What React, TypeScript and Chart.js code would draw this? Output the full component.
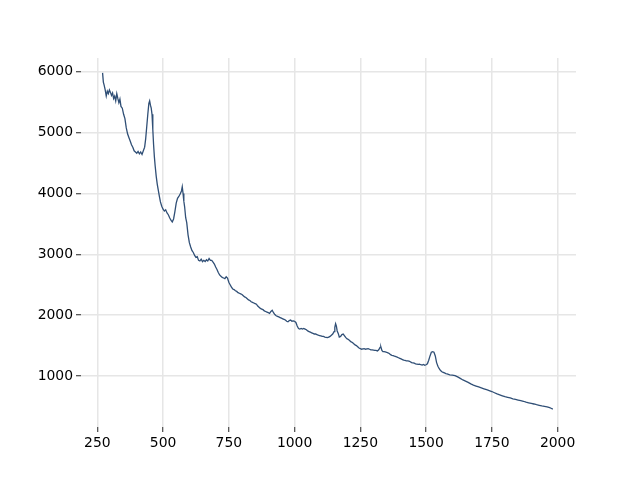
import React, { useEffect, useRef } from "react";
import { Chart, registerables } from "chart.js";

Chart.register(...registerables);

const wavenumbers: number[] = [
  270, 273, 276, 280, 284, 288, 292, 296, 300, 304, 308, 312, 316, 320, 324, 328, 332, 336, 340, 345,
  350, 355, 360, 365, 370, 375, 380, 385, 390, 395, 400, 405, 410, 415, 420, 425, 430, 434, 438, 442,
  446, 449, 452, 455, 458, 461, 464, 467, 470, 474, 478, 482, 486, 490, 495, 500, 505, 510, 515, 520,
  525, 530, 535, 540, 545, 550, 555, 560, 565, 570, 573, 576, 579, 582, 586, 590, 595, 600, 605, 610,
  615, 620, 625, 630, 635, 640, 645, 650, 655, 660, 665, 670, 675, 680, 685, 690, 695, 700, 705, 710,
  715, 720, 725, 730, 735, 740, 745, 750, 755, 760, 765, 770, 775, 780, 785, 790, 795, 800, 805, 810,
  815, 820, 825, 830, 835, 840, 845, 850, 855, 860, 865, 870, 875, 880, 885, 890, 895, 900, 905, 910,
  915, 920, 925, 930, 935, 940, 945, 950, 955, 960, 965, 970, 975, 980, 985, 990, 995, 1000, 1005, 1010,
  1015, 1020, 1025, 1030, 1035, 1040, 1045, 1050, 1055, 1060, 1065, 1070, 1075, 1080, 1085, 1090, 1095, 1100, 1105, 1110,
  1115, 1120, 1125, 1130, 1135, 1140, 1145, 1150, 1153, 1156, 1159, 1162, 1166, 1170, 1175, 1180, 1185, 1190, 1195, 1200,
  1205, 1210, 1215, 1220, 1225, 1230, 1235, 1240, 1245, 1250, 1255, 1260, 1265, 1270, 1275, 1280, 1285, 1290, 1295, 1300,
  1305, 1310, 1315, 1320, 1325, 1328, 1332, 1336, 1340, 1345, 1350, 1355, 1360, 1365, 1370, 1375, 1380, 1385, 1390, 1395,
  1400, 1405, 1410, 1415, 1420, 1425, 1430, 1435, 1440, 1445, 1450, 1455, 1460, 1465, 1470, 1475, 1480, 1485, 1490, 1495,
  1500, 1505, 1510, 1515, 1520, 1525, 1530, 1535, 1540, 1545, 1550, 1555, 1560, 1565, 1570, 1575, 1580, 1590, 1600, 1610,
  1620, 1630, 1640, 1650, 1660, 1670, 1680, 1690, 1700, 1710, 1720, 1730, 1740, 1750, 1760, 1770, 1780, 1790, 1800, 1810,
  1820, 1830, 1840, 1850, 1860, 1870, 1880, 1890, 1900, 1910, 1920, 1930, 1940, 1950, 1960, 1970, 1975, 1982,
];

const intensities: number[] = [
  5980, 5830, 5780, 5700, 5600, 5680, 5640, 5700, 5660, 5610, 5650, 5560, 5600, 5520, 5640, 5560, 5490, 5550, 5430, 5400,
  5300, 5230, 5080, 4980, 4920, 4860, 4800, 4760, 4700, 4680, 4660, 4690, 4650, 4680, 4640, 4700, 4760, 4900, 5100, 5300,
  5480, 5520, 5450, 5400, 5300, 5050, 4800, 4600, 4450, 4280, 4150, 4050, 3950, 3860, 3790, 3740, 3710, 3730, 3680, 3650,
  3600, 3560, 3530, 3580, 3700, 3840, 3920, 3950, 3990, 4040, 4110, 4000, 3870, 3780, 3600, 3520, 3320, 3190, 3120, 3060,
  3030, 2980, 2950, 2960, 2900, 2890, 2920, 2880, 2900, 2880, 2910, 2890, 2930, 2900, 2900, 2870, 2840, 2790, 2750, 2700,
  2660, 2640, 2620, 2610, 2600, 2630, 2610, 2540, 2500, 2460, 2430, 2420, 2400, 2390, 2370, 2360, 2350, 2340, 2320, 2300,
  2290, 2270, 2250, 2240, 2220, 2210, 2200, 2190, 2180, 2150, 2130, 2110, 2100, 2090, 2070, 2060, 2050, 2040, 2030, 2060,
  2080, 2040, 2010, 1990, 1980, 1970, 1960, 1950, 1940, 1930, 1920, 1900, 1890, 1910, 1920, 1900, 1905, 1900, 1880, 1820,
  1780, 1770, 1780, 1770, 1780, 1770, 1760, 1740, 1730, 1720, 1710, 1700, 1690, 1690, 1680, 1670, 1665, 1660, 1650, 1650,
  1640, 1635, 1630, 1640, 1650, 1670, 1690, 1730, 1800, 1860, 1820, 1740, 1700, 1640, 1650, 1680, 1690, 1660, 1630, 1610,
  1600, 1580, 1560, 1550, 1530, 1510, 1500, 1480, 1460, 1450, 1440, 1445, 1450, 1440, 1445, 1450, 1440, 1430, 1430, 1425,
  1420, 1420, 1410, 1430, 1470, 1480, 1420, 1400, 1400, 1395, 1390, 1380, 1370, 1350, 1340, 1335, 1325, 1320, 1310, 1300,
  1290, 1280, 1270, 1260, 1255, 1250, 1250, 1245, 1235, 1220, 1215, 1210, 1200, 1195, 1190, 1195, 1185, 1180, 1190, 1175,
  1185, 1200, 1260, 1330, 1390, 1400, 1390, 1330, 1220, 1160, 1120, 1090, 1070, 1060, 1050, 1040, 1035, 1020, 1015, 1005,
  985, 960, 935, 915, 895, 870, 850, 835, 820, 805, 790, 775, 760, 745, 725, 705, 690, 675, 660, 650,
  640, 625, 615, 605, 595, 585, 570, 560, 550, 540, 528, 518, 508, 500, 492, 480, 470, 455,
];

const xTicks: number[] = [250, 500, 750, 1000, 1250, 1500, 1750, 2000];
const yTicks: number[] = [1000, 2000, 3000, 4000, 5000, 6000];

export default function App() {
  const canvasRef = useRef<HTMLCanvasElement | null>(null);

  useEffect(() => {
    if (!canvasRef.current) return;
    const points = wavenumbers.map((x, i) => ({ x, y: intensities[i] }));
    const font = { family: "'DejaVu Sans', sans-serif", size: 13.9 };
    const gridStyle = { color: "#e6e6e6", lineWidth: 1.5, tickColor: "#222", tickWidth: 1, tickLength: 5, drawTicks: true };
    const chart = new Chart(canvasRef.current, {
      type: "line",
      data: {
        datasets: [
          {
            data: points,
            borderColor: "#304f76",
            borderWidth: 1.3,
            pointRadius: 0,
            tension: 0,
            fill: false,
          },
        ],
      },
      options: {
        animation: false,
        responsive: false,
        layout: { padding: { top: 58, right: 64, left: 0, bottom: 0 } },
        plugins: { legend: { display: false }, tooltip: { enabled: false } },
        scales: {
          x: {
            type: "linear",
            min: 188,
            max: 2070,
            border: { display: false },
            grid: gridStyle,
            ticks: { color: "#000", font, padding: 3, maxRotation: 0, callback: (v: any) => String(v) },
            afterBuildTicks: (scale: any) => {
              scale.ticks = xTicks.map((v) => ({ value: v }));
            },
            afterFit: (scale: any) => {
              scale.height = 53;
            },
          },
          y: {
            type: "linear",
            min: 162,
            max: 6225,
            border: { display: false },
            grid: gridStyle,
            ticks: { color: "#000", font, padding: 3, callback: (v: any) => String(v) },
            afterBuildTicks: (scale: any) => {
              scale.ticks = yTicks.map((v) => ({ value: v }));
            },
            afterFit: (scale: any) => {
              scale.width = 81;
            },
          },
        },
      },
    });
    return () => chart.destroy();
  }, []);

  return (
    <div style={{ position: "fixed", left: 0, top: 0, width: 640, height: 480, background: "#fff" }}>
      <canvas ref={canvasRef} width={640} height={480} />
    </div>
  );
}
